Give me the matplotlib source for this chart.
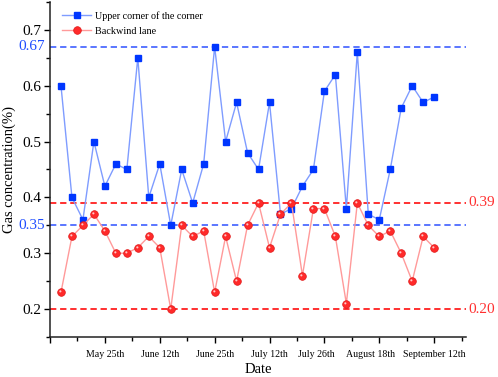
import numpy as np
import matplotlib
matplotlib.use("Agg")
import matplotlib.pyplot as plt
import matplotlib.transforms as mtransforms
from matplotlib.path import Path

# sample index 1..35 along the date axis
upper_corner = [0.60, 0.40, 0.36, 0.50, 0.42, 0.46, 0.45, 0.65, 0.40, 0.46,
                0.35, 0.45, 0.39, 0.46, 0.67, 0.50, 0.57, 0.48, 0.45, 0.57,
                0.37, 0.38, 0.42, 0.45, 0.59, 0.62, 0.38, 0.66, 0.37, 0.36,
                0.45, 0.56, 0.60, 0.57, 0.58]
backwind = [0.23, 0.33, 0.35, 0.37, 0.34, 0.30, 0.30, 0.31, 0.33, 0.31,
            0.20, 0.35, 0.33, 0.34, 0.23, 0.33, 0.25, 0.35, 0.39, 0.31,
            0.37, 0.39, 0.26, 0.38, 0.38, 0.33, 0.21, 0.39, 0.35, 0.33,
            0.34, 0.30, 0.25, 0.33, 0.31]
date_ticks = [0, 5, 10, 15, 20, 25, 30, 35]
date_labels = ['', 'May 25th', 'June 12th', 'June 25th', 'July 12th',
               'July 26th', 'August 18th', 'September 12th']
# the original labels for these two sit a bit left of their ticks (pixels)
label_shift = {5: -8, 6: -9}
blue_refs = [0.67, 0.35]
red_refs = [0.39, 0.20]

blue_line = '#7f9cff'
blue_mark = '#0036ff'
red_line = '#ff9a9a'
red_mark = '#ff2a2a'


def shine_marker():
    # small disc up-left of centre; the two bare moveto points keep the scale
    t = np.linspace(0, 2*np.pi, 24)
    verts = [(-1, -1), (1, 1)]
    codes = [Path.MOVETO, Path.MOVETO]
    circ = list(zip(-0.3 + 0.28*np.cos(t), 0.3 + 0.28*np.sin(t)))
    verts += circ
    codes += [Path.MOVETO] + [Path.LINETO]*(len(circ) - 2) + [Path.CLOSEPOLY]
    return Path(verts, codes)


def main():
    plt.rcParams['font.family'] = ['Liberation Serif', 'DejaVu Serif']
    x = np.arange(1, len(upper_corner) + 1)

    fig = plt.figure(figsize=(4.98, 3.77), dpi=100)
    ax = fig.add_axes([0.1004, 0.1061, 0.8353, 0.8886])

    for v in blue_refs:
        ax.axhline(v, color='#4d6bff', lw=1.3, ls=(0, (3.5, 2.1)), zorder=1)
    for v in red_refs:
        ax.axhline(v, color='#ff2020', lw=1.3, ls=(0, (3.5, 2.1)), zorder=1)

    ax.plot(x, upper_corner, color=blue_line, lw=1.0, marker='s', ms=5.0,
            mfc=blue_mark, mec=blue_mark, label='Upper corner of the corner',
            zorder=3)
    ax.plot(x, backwind, color=red_line, lw=1.0, marker='o', ms=5.5,
            mfc=red_mark, mec='#e01818', mew=0.5, label='Backwind lane',
            zorder=4)
    ax.plot(x, backwind, ls='none', marker=shine_marker(), ms=5.5,
            mfc='#ffc8c8', mec='none', zorder=5)

    ax.set_xlim(0, 37.9)
    ax.set_ylim(0.15, 0.75)
    ax.set_xticks(date_ticks)
    ax.set_xticklabels(date_labels, fontsize=7.1)
    ax.set_xticks(np.arange(2.5, 38, 5), minor=True)
    ax.set_yticks([0.2, 0.3, 0.4, 0.5, 0.6, 0.7])
    ax.set_yticklabels(['0.2', '0.3', '0.4', '0.5', '0.6', '0.7'], fontsize=11)
    ax.set_yticks(np.arange(0.15, 0.76, 0.1), minor=True)

    ax.tick_params(which='major', length=4.5, width=1.0, direction='out',
                   pad=2)
    ax.tick_params(which='minor', length=3.0, width=1.0, direction='out')
    ax.tick_params(axis='x', which='major', pad=5)

    for i, lab in enumerate(ax.get_xticklabels()):
        if i in label_shift:
            off = mtransforms.ScaledTranslation(label_shift[i]/100.0, 0,
                                                fig.dpi_scale_trans)
            lab.set_transform(lab.get_transform() + off)

    for side in ['top', 'right']:
        ax.spines[side].set_visible(False)
    for side in ['left', 'bottom']:
        ax.spines[side].set_linewidth(1.1)
        ax.spines[side].set_color('#222222')

    trans = mtransforms.blended_transform_factory(ax.transAxes, ax.transData)
    for v in blue_refs:
        ax.annotate('%.2f' % v, xy=(0, v), xycoords=trans, xytext=(-3.5, 0),
                    textcoords='offset points', ha='right', va='center',
                    color='#1f4dff', fontsize=11)
    for v in red_refs:
        ax.annotate('%.2f' % v, xy=(1, v), xycoords=trans, xytext=(2, 0),
                    textcoords='offset points', ha='left', va='center',
                    color='#ff3030', fontsize=11, annotation_clip=False)

    ax.set_xlabel('Date', fontsize=10.5, labelpad=3)
    ax.set_ylabel('Gas concentration(%)', fontsize=10.5, labelpad=4)

    ax.legend(loc='upper left', bbox_to_anchor=(0.029, 0.973), frameon=False,
              fontsize=7.3, handlelength=2.9, handletextpad=0.3,
              borderpad=0, borderaxespad=0, labelspacing=0.6)

    fig.savefig('out.png', dpi=100)


if __name__ == "__main__":
    main()
